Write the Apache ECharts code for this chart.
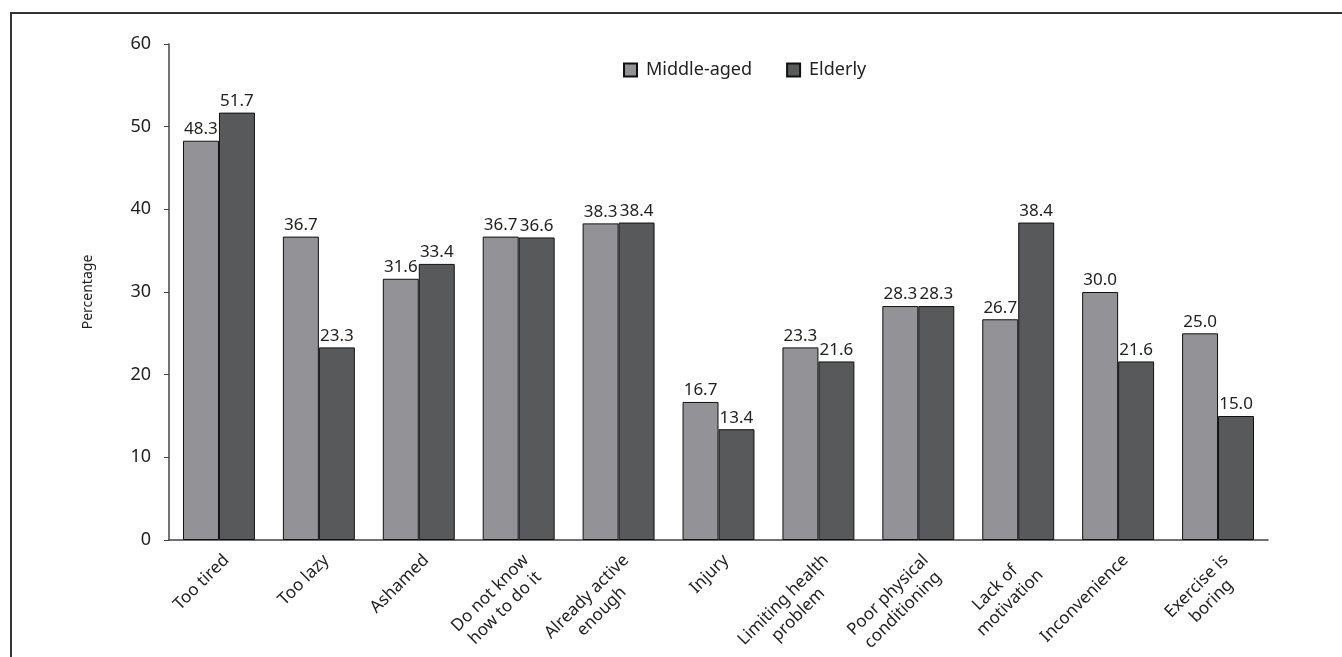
<!DOCTYPE html>
<html>
<head>
<meta charset="utf-8">
<script src="https://cdn.jsdelivr.net/npm/echarts@6/dist/echarts.min.js"></script>
<style>
  html, body { margin: 0; padding: 0; background: #fff; }
  #chart { width: 1342px; height: 657px; }
  #frame {
    position: absolute; left: 10px; top: 12px; width: 1332px; height: 645px;
    border-left: 2px solid #333; border-top: 2px solid #333; pointer-events: none;
  }
</style>
</head>
<body>
<div id="chart"></div>
<div id="frame"></div>
<script>
// reasons for not exercising
const categories = [
  'Too tired', 'Too lazy', 'Ashamed', 'Do not know\nhow to do it',
  'Already active\nenough', 'Injury', 'Limiting health\nproblem',
  'Poor physical\nconditioning', 'Lack of\nmotivation', 'Inconvenience',
  'Exercise is\nboring'
];
const middleAged = [48.3, 36.7, 31.6, 36.7, 38.3, 16.7, 23.3, 28.3, 26.7, 30.0, 25.0];
const elderly = [51.7, 23.3, 33.4, 36.6, 38.4, 13.4, 21.6, 28.3, 38.4, 21.6, 15.0];
const yTicks = { min: 0, max: 60, interval: 10 };

const font = '"Noto Sans", sans-serif';
const chart = echarts.init(document.getElementById('chart'));

const labelStyle = {
  show: true,
  position: 'top',
  distance: 3,
  color: '#222',
  fontSize: 17,
  fontFamily: font,
  formatter: p => p.value.toFixed(1)
};

chart.setOption({
  animation: false,
  textStyle: { fontFamily: font },
  legend: {
    left: 618,
    top: 56,
    icon: 'rect',
    itemWidth: 13,
    itemHeight: 13,
    itemGap: 34,
    textStyle: { fontSize: 18, color: '#222', fontFamily: font, padding: [0, 0, 0, 4] },
    data: ['Middle-aged', 'Elderly']
  },
  grid: { left: 169, right: 74, top: 44, bottom: 117, outerBoundsMode: 'none', containLabel: false },
  xAxis: {
    type: 'category',
    data: categories,
    axisLine: { lineStyle: { color: '#444', width: 1.5 } },
    axisTick: { show: false },
    axisLabel: {
      interval: 0,
      rotate: 45,
      margin: 10,
      verticalAlign: 'top',
      color: '#222',
      fontSize: 17,
      fontFamily: font,
      lineHeight: 21,
      formatter: v => v.split('\n').map(l => '{c|' + l + '}').join('\n'),
      rich: { c: { align: 'center', fontSize: 17, fontFamily: font, color: '#222', lineHeight: 21 } }
    }
  },
  yAxis: {
    type: 'value',
    min: yTicks.min,
    max: yTicks.max,
    interval: yTicks.interval,
    name: 'Percentage',
    nameLocation: 'middle',
    nameGap: 74,
    nameTextStyle: { fontSize: 14, color: '#222', fontFamily: font },
    axisLine: { show: true, lineStyle: { color: '#444', width: 1.5 } },
    axisTick: { show: true, length: 5, lineStyle: { color: '#444' } },
    splitLine: { show: false },
    axisLabel: { color: '#222', fontSize: 18, fontFamily: font, margin: 18 }
  },
  series: [
    {
      name: 'Middle-aged',
      type: 'bar',
      data: middleAged,
      barGap: '0%',
      barCategoryGap: '28%',
      itemStyle: { color: '#939397', borderColor: '#111', borderWidth: 1 },
      label: labelStyle
    },
    {
      name: 'Elderly',
      type: 'bar',
      data: elderly,
      itemStyle: { color: '#58595b', borderColor: '#111', borderWidth: 1 },
      label: labelStyle
    }
  ]
});
</script>
</body>
</html>
